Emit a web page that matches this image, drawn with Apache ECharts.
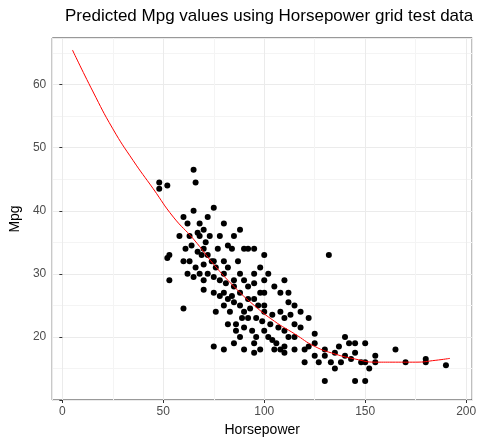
<html>
<head>
<meta charset="utf-8">
<script src="https://cdn.jsdelivr.net/npm/echarts@6/dist/echarts.min.js"></script>
<style>html,body{margin:0;padding:0;background:#fff}#main{width:479px;height:445px}</style>
</head>
<body>
<div id="main"></div>
<script>
var hp = [48,48,52,53,52,53,60,60,62,63,65,66,67,68,70,68,72,65,75,80,78,82,85,88,90,92,95,100,58,61,64,67,70,72,75,70,66,68,72,65,62,75,80,82,85,88,90,95,98,100,105,110,112,115,85,88,92,95,97,100,104,108,110,115,118,122,125,70,75,78,80,82,85,88,90,92,80,76,82,86,88,90,94,96,100,102,104,106,108,110,110,115,120,125,130,130,132,135,140,142,145,140,145,148,150,152,155,145,150,130,135,138,150,143,155,165,170,180,180,190,85,80,75,90,95,95,86,78,74,71,69,63,80,84,95,98,102,108,92,96,100,110,112,115,103,118,105,98,120,125,112,100,87,77,73,60,70,76,81,84,89,93,83,99,107,113,133,137,127,122];
var mpg = [44.5,43.5,44,33,32.5,29,24.5,39,38,36,46.5,44.5,36.5,36,37,38,39,40,40.5,38,36,34.5,36,37,34,34,34,33,36,34,34.5,33.5,34,33,32,31.5,31,30,30,29.5,30,29.5,30,31,29,30,29,28.5,27,29,28,29,27,25,28,27,26,26,25,24,23.5,24,23,22,21.5,23,19,27.5,27,26.5,27,26,25.5,25,24,23,25,24,22,21,20,21.5,21,20,21,20,19.5,19,18,18.5,17.5,18,18,17,17,18,33,17.5,20,19,19,17,17.5,16,16,15,17,13,13,13,15,16,19,16.5,16,18,16,16,16.5,15.5,19,18,18.5,18,17.5,19,22,29,32,35,33,32,32,34,30,31,30,27,28,23,25,21,20,20,22,24,18,18,16,20.5,25.5,27,32,34,36,32,29,31,28.5,26.5,23,24.5,24,22.5,21.5,23.5,16,18.5,16,18.5];
var gridHp = [5,15,25,35,45,55,65,75,85,95,105,115,125,135,145,155,165,175,185,192];
var gridPred = [65.5,59,53,48,43.5,39,35.5,31.5,28,25,22.5,20.5,18.5,17.3,16.5,16,16,16,16.3,16.6];

var pts = hp.map(function(h, i){ return [h, mpg[i]]; });
var line = gridHp.map(function(h, i){ return [h, gridPred[i]]; });

var chart = echarts.init(document.getElementById('main'));
var lab = {color:'#4d4d4d', fontSize:12, fontFamily:'Liberation Sans'};
chart.setOption({
  animation:false,
  title:{text:'Predicted Mpg values using Horsepower grid test data', left:60, top:3,
    textStyle:{fontSize:17, fontWeight:'normal', color:'#000', fontFamily:'Liberation Sans'}},
  grid:{left:42, right:2, top:38, bottom:45, show:true, borderColor:'#333', borderWidth:1},
  xAxis:{type:'value', min:-5, max:203, splitNumber:4,
    name:'Horsepower', nameLocation:'middle', nameGap:22,
    nameTextStyle:{fontSize:14, color:'#000', fontFamily:'Liberation Sans'},
    axisLine:{show:false}, axisTick:{show:true, length:3, lineStyle:{color:'#333'}},
    axisLabel:Object.assign({showMinLabel:false, showMaxLabel:false, margin:6}, lab),
    splitLine:{lineStyle:{color:'#ebebeb'}},
    minorTick:{show:false, splitNumber:2}, minorSplitLine:{show:true, lineStyle:{color:'#f4f4f4'}}},
  yAxis:{type:'value', min:10, max:67.4, interval:10,
    name:'Mpg', nameLocation:'middle', nameGap:30, nameRotate:90,
    nameTextStyle:{fontSize:14, color:'#000', fontFamily:'Liberation Sans'},
    axisLine:{show:false}, axisTick:{show:true, length:3, lineStyle:{color:'#333'}},
    axisLabel:Object.assign({showMaxLabel:false, formatter:function(v){return v===10?'':v;}, margin:6}, lab),
    splitLine:{lineStyle:{color:'#ebebeb'}},
    minorTick:{show:false, splitNumber:2}, minorSplitLine:{show:true, lineStyle:{color:'#f4f4f4'}}},
  series:[
    {type:'scatter', data:pts, symbolSize:6, itemStyle:{color:'#000', opacity:1}},
    {type:'line', data:line, smooth:true, showSymbol:false, lineStyle:{color:'#ff0000', width:1}}
  ]
});
</script>
</body>
</html>
